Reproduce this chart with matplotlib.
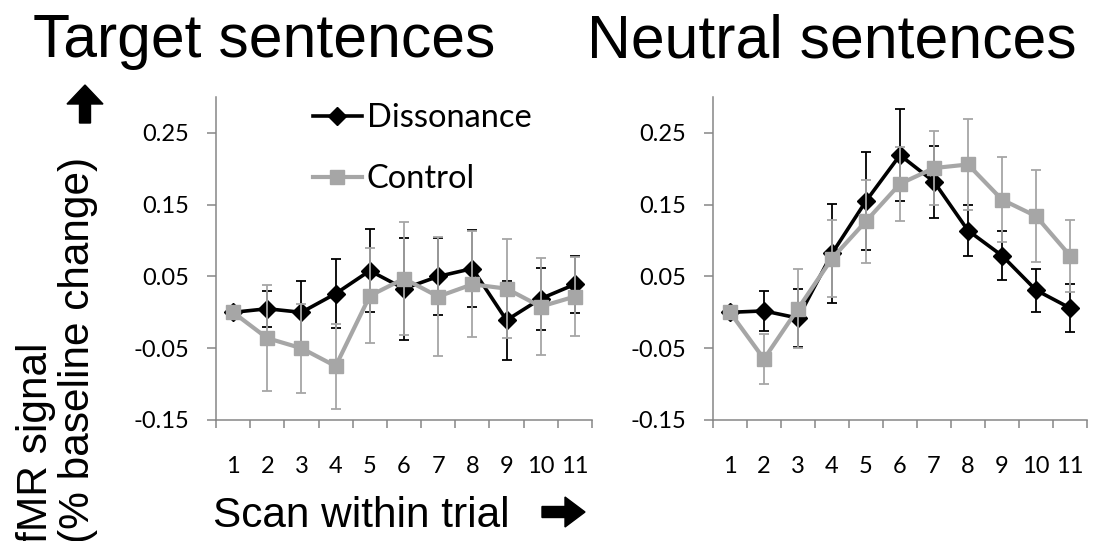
import numpy as np
import matplotlib
matplotlib.use("Agg")
import matplotlib.pyplot as plt
from matplotlib.patches import FancyArrow

# data
scans = np.arange(1, 12)
scan_labels = [str(s) for s in scans]

target_diss = [0.0, 0.005, 0.0, 0.026, 0.058, 0.033, 0.050, 0.061, -0.011, 0.019, 0.039]
target_diss_err = [0.0, 0.025, 0.043, 0.048, 0.058, 0.071, 0.054, 0.054, 0.055, 0.043, 0.040]
target_ctrl = [0.0, -0.036, -0.050, -0.075, 0.023, 0.047, 0.022, 0.039, 0.033, 0.008, 0.022]
target_ctrl_err = [0.0, 0.074, 0.062, 0.059, 0.066, 0.079, 0.083, 0.074, 0.069, 0.068, 0.055]

neutral_diss = [0.0, 0.002, -0.008, 0.082, 0.155, 0.219, 0.182, 0.114, 0.079, 0.031, 0.006]
neutral_diss_err = [0.0, 0.028, 0.040, 0.069, 0.068, 0.064, 0.050, 0.035, 0.034, 0.030, 0.033]
neutral_ctrl = [0.0, -0.065, 0.005, 0.075, 0.127, 0.179, 0.201, 0.206, 0.157, 0.134, 0.079]
neutral_ctrl_err = [0.0, 0.035, 0.055, 0.053, 0.058, 0.052, 0.051, 0.064, 0.059, 0.064, 0.050]

yticks = [-0.15, -0.05, 0.05, 0.15, 0.25]

BLACK = "#000000"
GRAY = "#a6a6a6"
AXIS = "#868686"
TICKFONT = "Lato"
SANS = ["Liberation Sans", "DejaVu Sans"]

W, H = 1106, 541
fig = plt.figure(figsize=(W / 100, H / 100), dpi=100)

ax1 = fig.add_axes([216 / W, 1 - 420 / H, 376 / W, 323 / H])
ax2 = fig.add_axes([713 / W, 1 - 420 / H, 374 / W, 323 / H])


def draw_panel(ax, diss, diss_err, ctrl, ctrl_err):
    eb_d = ax.errorbar(scans, diss, yerr=diss_err, color=BLACK, lw=2.6,
                       marker="D", markersize=9, ecolor=BLACK, elinewidth=1.3,
                       capsize=3.5, capthick=1.3, zorder=3)
    eb_c = ax.errorbar(scans, ctrl, yerr=ctrl_err, color=GRAY, lw=3.0,
                       marker="s", markersize=10, ecolor=GRAY, elinewidth=1.3,
                       capsize=3.5, capthick=1.3, zorder=4)
    ax.set_xlim(0.5, 11.5)
    ax.set_ylim(-0.15, 0.30)
    ax.set_yticks(yticks)
    ax.set_yticklabels([f"{v:.2f}" for v in yticks], fontfamily=TICKFONT, fontsize=17)
    ax.set_xticks(np.arange(0.5, 12.0, 1.0))
    ax.set_xticklabels([])
    ax.set_xticks(scans, minor=True)
    ax.set_xticklabels(scan_labels, minor=True, fontfamily=TICKFONT, fontsize=17)
    ax.tick_params(axis="x", which="major", direction="out", length=6, width=1.1, color=AXIS)
    ax.tick_params(axis="x", which="minor", length=0, pad=26)
    ax.tick_params(axis="y", direction="out", length=6.5, width=1.1, color=AXIS, pad=13)
    for side in ["top", "right"]:
        ax.spines[side].set_visible(False)
    for side in ["left", "bottom"]:
        ax.spines[side].set_color(AXIS)
        ax.spines[side].set_linewidth(1.1)
    return eb_d, eb_c


eb_d, eb_c = draw_panel(ax1, target_diss, target_diss_err, target_ctrl, target_ctrl_err)
draw_panel(ax2, neutral_diss, neutral_diss_err, neutral_ctrl, neutral_ctrl_err)

ax1.legend([eb_d.lines[0], eb_c.lines[0]], ["Dissonance", "Control"],
           loc="upper left", bbox_to_anchor=((313 - 216) / 376, 1 - 6 / 323),
           frameon=False, borderpad=0, borderaxespad=0, handlelength=1.5,
           handletextpad=0.15, labelspacing=0.95,
           prop={"family": TICKFONT, "size": 23.5})

# panel titles
fig.text(33 / W, 1 - 57 / H, "Target sentences", fontsize=43.7, family=SANS,
         ha="left", va="baseline")
fig.text(587 / W, 1 - 57 / H, "Neutral sentences", fontsize=43.7, family=SANS,
         ha="left", va="baseline")

# axis titles
fig.text(213 / W, 1 - 527 / H, "Scan within trial", fontsize=30.5, family=SANS,
         ha="left", va="baseline")
fig.text(16 / W, -0.004, "fMR signal\n(% baseline change)", fontsize=30.5,
         family=SANS, rotation=90, ha="left", va="bottom",
         multialignment="left", linespacing=1.05)

# arrows (drawn in inches from the bottom-left corner)
fig.patches.append(FancyArrow(5.42, (H - 512) / 100, 0.43, 0, width=0.11,
                              head_width=0.30, head_length=0.20,
                              length_includes_head=True, color="black",
                              transform=fig.dpi_scale_trans, figure=fig))
fig.patches.append(FancyArrow(0.85, (H - 123) / 100, 0, 0.38, width=0.11,
                              head_width=0.36, head_length=0.19,
                              length_includes_head=True, color="black",
                              transform=fig.dpi_scale_trans, figure=fig))

fig.savefig("out.png", dpi=100)
